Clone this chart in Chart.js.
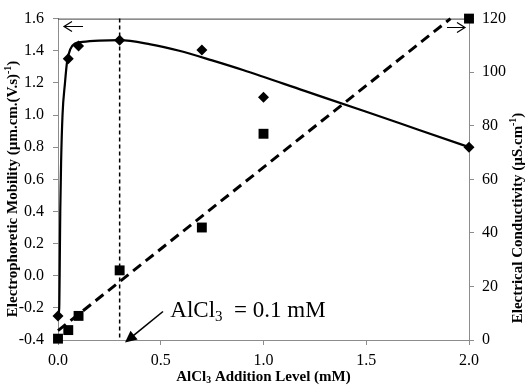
<!DOCTYPE html>
<html>
<head>
<meta charset="utf-8">
<script src="https://cdn.jsdelivr.net/npm/chart.js@4"></script>
<style>
  html, body { margin: 0; padding: 0; background: #fff; }
  #wrap { width: 529px; height: 386px; }
</style>
</head>
<body>
<div id="wrap"><canvas id="chart" width="529" height="386"></canvas></div>
<script>
// AlCl3 addition level (mM) and the measured points
const additionLevel = [0, 0.05, 0.1, 0.3, 0.7, 1.0, 2.0];
const mobility      = [-0.25, 1.35, 1.43, 1.465, 1.405, 1.11, 0.80];
const conductivity  = [0.5, 3.7, 9, 26, 42, 77, 120];

// fitted mobility curve
const fitLevel    = [0, 0.006, 0.008, 0.011, 0.015, 0.022, 0.034, 0.044, 0.06, 0.083, 0.12, 0.2, 0.3, 0.45, 0.59, 0.75, 0.9, 1.2, 1.5, 1.75, 2.0];
const fitMobility = [-0.25, -0.2, 0.0, 0.4, 0.7, 1.0, 1.2, 1.33, 1.41, 1.445, 1.455, 1.463, 1.466, 1.44, 1.40, 1.34, 1.28, 1.15, 1.02, 0.91, 0.80];

// linear conductivity trend
const trendLevel        = [0, 1.91];
const trendConductivity = [3.5, 120];

const levelTicks        = [0, 0.5, 1.0, 1.5, 2.0];
const mobilityTicks     = [-0.4, -0.2, 0.0, 0.2, 0.4, 0.6, 0.8, 1.0, 1.2, 1.4, 1.6];
const conductivityTicks = [0, 20, 40, 60, 80, 100, 120];

const markerLevel = 0.3;

const SERIF    = '"Liberation Serif", "Times New Roman", serif';
const AXIS_CLR = '#8c8c8c';

const pts = (xs, ys) => xs.map((x, i) => ({ x, y: ys[i] }));

// draw a run of text pieces with sub/superscripts, centred on (0,0)
function richText(ctx, parts, size, bold) {
  const w = bold ? 'bold ' : '';
  let total = 0;
  for (const p of parts) {
    ctx.font = `${w}${p.s ? size * 0.65 : size}px ${SERIF}`;
    p.w = ctx.measureText(p.t).width;
    total += p.w;
  }
  let x = -total / 2;
  ctx.textBaseline = 'middle';
  ctx.textAlign = 'left';
  for (const p of parts) {
    ctx.font = `${w}${p.s ? size * 0.65 : size}px ${SERIF}`;
    const dy = p.s === 'sup' ? -size * 0.3 : p.s === 'sub' ? size * 0.25 : 0;
    ctx.fillText(p.t, x, dy);
    x += p.w;
  }
}

function openArrow(ctx, x1, x2, y) {
  const dir = Math.sign(x2 - x1);
  ctx.beginPath();
  ctx.moveTo(x1, y);
  ctx.lineTo(x2, y);
  ctx.moveTo(x2 - dir * 8, y - 5);
  ctx.lineTo(x2, y);
  ctx.lineTo(x2 - dir * 8, y + 5);
  ctx.stroke();
}

const extras = {
  id: 'extras',
  beforeDatasetsDraw(chart) {
    const { ctx, chartArea: a, scales } = chart;
    ctx.save();
    // top frame line
    ctx.strokeStyle = '#404040';
    ctx.lineWidth = 1;
    ctx.beginPath();
    ctx.moveTo(a.left, a.top + 0.5);
    ctx.lineTo(a.right, a.top + 0.5);
    ctx.stroke();
    // vertical marker at the chosen level
    const xm = scales.x.getPixelForValue(markerLevel);
    ctx.strokeStyle = '#000';
    ctx.lineWidth = 1.5;
    ctx.setLineDash([4, 3]);
    ctx.beginPath();
    ctx.moveTo(xm, a.top);
    ctx.lineTo(xm, a.bottom);
    ctx.stroke();
    ctx.restore();
  },
  afterDraw(chart) {
    const { ctx, chartArea: a } = chart;
    ctx.save();
    ctx.fillStyle = '#000';
    ctx.strokeStyle = '#000';

    // axis titles
    ctx.save();
    ctx.translate(13, 189);
    ctx.rotate(-Math.PI / 2);
    richText(ctx, [{ t: 'Electrophoretic Mobility (\u00b5m.cm.(V.s)' }, { t: '-1', s: 'sup' }, { t: ')' }], 15, true);
    ctx.restore();

    ctx.save();
    ctx.translate(518, 218);
    ctx.rotate(-Math.PI / 2);
    richText(ctx, [{ t: 'Electrical Conductivity (\u00b5S.cm' }, { t: '-1', s: 'sup' }, { t: ')' }], 15, true);
    ctx.restore();

    ctx.save();
    ctx.translate((a.left + a.right) / 2, 377);
    richText(ctx, [{ t: 'AlCl' }, { t: '3', s: 'sub' }, { t: ' Addition Level (mM)' }], 15, true);
    ctx.restore();

    // axis direction arrows
    ctx.lineWidth = 1.2;
    openArrow(ctx, 83, 64, 26.5);
    openArrow(ctx, 447, 465, 27.5);

    // annotation text
    ctx.save();
    ctx.translate(248, 311);
    richText(ctx, [{ t: 'AlCl' }, { t: '3', s: 'sub' }, { t: '  = 0.1 mM' }], 23, false);
    ctx.restore();

    // pointer arrow
    const tipX = 125, tipY = 342.5, fromX = 163, fromY = 311.5;
    const ang = Math.atan2(tipY - fromY, tipX - fromX);
    ctx.lineWidth = 1.6;
    ctx.beginPath();
    ctx.moveTo(fromX, fromY);
    ctx.lineTo(tipX - Math.cos(ang) * 8, tipY - Math.sin(ang) * 8);
    ctx.stroke();
    ctx.beginPath();
    ctx.moveTo(tipX, tipY);
    ctx.lineTo(tipX - Math.cos(ang - 0.45) * 13, tipY - Math.sin(ang - 0.45) * 13);
    ctx.lineTo(tipX - Math.cos(ang + 0.45) * 13, tipY - Math.sin(ang + 0.45) * 13);
    ctx.closePath();
    ctx.fill();
    ctx.restore();
  },
};

const axisGrid = { drawOnChartArea: false, drawTicks: true, tickLength: 5, color: AXIS_CLR };
const tickFont = { family: SERIF, size: 16 };

new Chart(document.getElementById('chart'), {
  type: 'scatter',
  data: {
    datasets: [
      {
        label: 'Conductivity trend',
        data: pts(trendLevel, trendConductivity),
        yAxisID: 'y2',
        showLine: true,
        borderColor: '#000',
        borderWidth: 3,
        borderDash: [10, 6],
        pointRadius: 0,
        clip: false,
        order: 4,
      },
      {
        label: 'Conductivity',
        data: pts(additionLevel, conductivity),
        yAxisID: 'y2',
        pointStyle: 'rect',
        pointRadius: 7,
        backgroundColor: '#000',
        borderColor: '#000',
        borderWidth: 0,
        clip: false,
        order: 3,
      },
      {
        label: 'Mobility fit',
        data: pts(fitLevel, fitMobility),
        yAxisID: 'y',
        showLine: true,
        cubicInterpolationMode: 'monotone',
        borderColor: '#000',
        borderWidth: 2.2,
        pointRadius: 0,
        clip: false,
        order: 2,
      },
      {
        label: 'Mobility',
        data: pts(additionLevel, mobility),
        yAxisID: 'y',
        pointStyle: 'rectRot',
        pointRadius: 5.5,
        backgroundColor: '#000',
        borderColor: '#000',
        borderWidth: 0,
        clip: false,
        order: 1,
      },
    ],
  },
  options: {
    responsive: false,
    animation: false,
    layout: { padding: { top: 12, left: 0, right: 0, bottom: 0 } },
    plugins: { legend: { display: false }, tooltip: { enabled: false } },
    scales: {
      x: {
        type: 'linear',
        min: 0,
        max: 2,
        afterBuildTicks: s => { s.ticks = levelTicks.map(v => ({ value: v })); },
        afterFit: s => { s.height = 46; },
        ticks: { font: tickFont, color: '#000', padding: 6, maxRotation: 0, callback: v => v.toFixed(1) },
        grid: axisGrid,
        border: { display: true, color: AXIS_CLR },
      },
      y: {
        position: 'left',
        min: -0.4,
        max: 1.6,
        afterBuildTicks: s => { s.ticks = mobilityTicks.map(v => ({ value: v })); },
        afterFit: s => { s.width = 58; },
        ticks: { font: tickFont, color: '#000', padding: 9, callback: v => v.toFixed(1) },
        grid: axisGrid,
        border: { display: true, color: AXIS_CLR },
      },
      y2: {
        position: 'right',
        min: 0,
        max: 120,
        afterBuildTicks: s => { s.ticks = conductivityTicks.map(v => ({ value: v })); },
        afterFit: s => { s.width = 60; },
        ticks: { font: tickFont, color: '#000', padding: 8 },
        grid: axisGrid,
        border: { display: true, color: AXIS_CLR },
      },
    },
  },
  plugins: [extras],
});
</script>
</body>
</html>
